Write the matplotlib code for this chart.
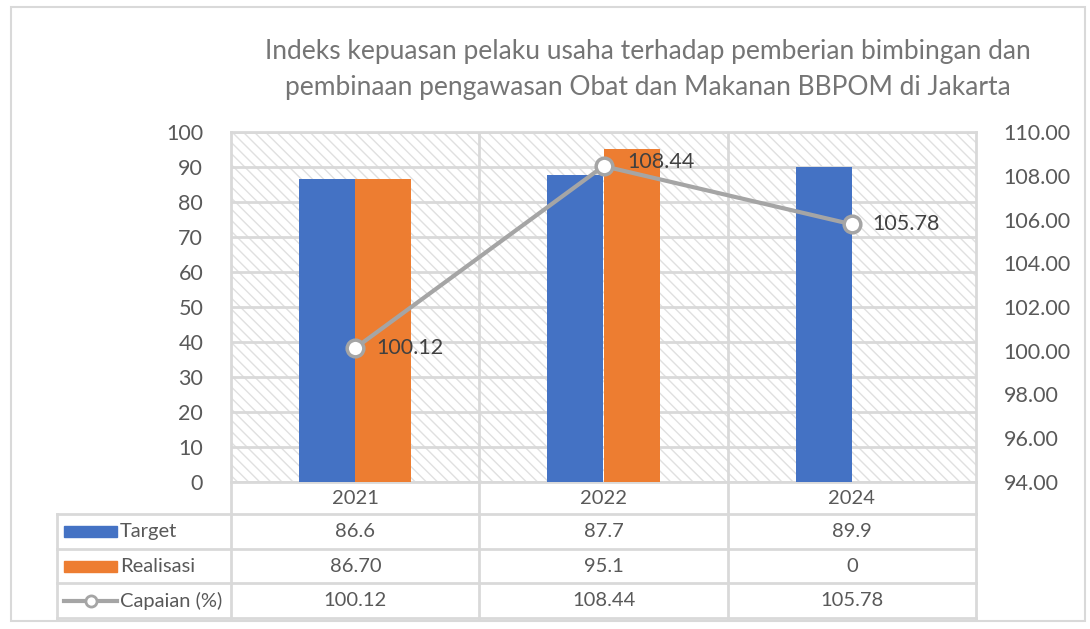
import matplotlib.pyplot as plt
from matplotlib.patches import Rectangle
from matplotlib.lines import Line2D
import numpy as np

years = ['2021', '2022', '2024']
target = [86.6, 87.7, 89.9]
realisasi = [86.70, 95.1, 0]
capaian = [100.12, 108.44, 105.78]
target_txt = ['86.6', '87.7', '89.9']
realisasi_txt = ['86.70', '95.1', '0']
capaian_txt = ['100.12', '108.44', '105.78']

blue = '#4472C4'
orange = '#ED7D31'
gray = '#A5A5A5'
grid_c = '#D9D9D9'
txt_c = '#595959'

plt.rcParams['font.family'] = ['Lato', 'DejaVu Sans']
plt.rcParams['hatch.color'] = '#E0E0E0'
plt.rcParams['hatch.linewidth'] = 1.0

W, H = 1090, 629
fig = plt.figure(figsize=(W / 100, H / 100), dpi=100)

def px(x0, y0, x1, y1):
    return [x0 / W, 1 - y1 / H, (x1 - x0) / W, (y1 - y0) / H]

# outer chart border
fig.patches.append(Rectangle((11 / W, 1 - 621 / H), 1074 / W, 614 / H,
                             transform=fig.transFigure, fill=False,
                             edgecolor=grid_c, lw=1.5))

ax = fig.add_axes(px(231, 132, 976, 482))
x = np.arange(len(years))
bw = 0.226

ax.add_patch(Rectangle((0, 0), 1, 1, transform=ax.transAxes, facecolor='white',
                       hatch='\\\\\\', edgecolor='#E0E0E0', lw=0, zorder=0))
ax.bar(x - bw / 2, target, bw, color=blue, zorder=3)
ax.bar(x + bw / 2, realisasi, bw, color=orange, zorder=3)
ax.set_xlim(-0.5, 2.5)
ax.set_ylim(0, 100)
ax.set_yticks(range(0, 101, 10))
ax.yaxis.grid(True, color=grid_c, lw=2, zorder=1)
for xv in [0.5, 1.5]:
    ax.axvline(xv, color=grid_c, lw=2, zorder=1)
ax.set_xticks([])
ax.tick_params(axis='y', length=0, pad=20, labelsize=15.5, labelcolor=txt_c)
for s in ax.spines.values():
    s.set_color(grid_c)
    s.set_linewidth(2)

ax2 = ax.twinx()
ax2.plot(x, capaian, color=gray, lw=3, marker='o', markersize=12,
         markerfacecolor='white', markeredgecolor=gray, markeredgewidth=2.5,
         zorder=5)
ax2.set_ylim(94, 110)
ax2.set_yticks(np.arange(94, 110.1, 2))
ax2.set_yticklabels(['%.2f' % v for v in np.arange(94, 110.1, 2)])
ax2.tick_params(axis='y', length=0, pad=20, labelsize=15.5, labelcolor=txt_c)
for s in ax2.spines.values():
    s.set_visible(False)
offsets = [(15, 0), (17, 3), (15, 0)]
for xi, v, t, off in zip(x, capaian, capaian_txt, offsets):
    ax2.annotate(t, (xi, v), xytext=off, textcoords='offset points',
                 ha='left', va='center', fontsize=15.5, color='#404040')

# data table
tx = fig.add_axes(px(57, 482, 976, 618))
left = -0.5 - 174 / 248
tx.set_xlim(left, 2.5)
tx.set_ylim(4, 0)
tx.axis('off')
row_h = [0, 32 / 34, 1 + 32 / 34, 2 + 32 / 34, 3 + 32 / 34]
# rows in units: header 32px, others ~34px
scale = 4 / (row_h[-1])
rows = [r * scale for r in row_h]
lc = dict(color=grid_c, lw=2, clip_on=False)
for r in rows[1:]:
    tx.plot([left, 2.5], [r, r], **lc)
for xv in [-0.5, 0.5, 1.5, 2.5]:
    tx.plot([xv, xv], [0, rows[-1]], **lc)
tx.plot([left, left], [rows[1], rows[-1]], **lc)

for xi, y in zip(x, years):
    tx.text(xi, (rows[0] + rows[1]) / 2, y, ha='center', va='center',
            fontsize=14.5, color=txt_c)
for ri, vals in enumerate([target_txt, realisasi_txt, capaian_txt]):
    yc = (rows[ri + 1] + rows[ri + 2]) / 2
    for xi, t in zip(x, vals):
        tx.text(xi, yc, t, ha='center', va='center', fontsize=14.5, color=txt_c)

names = ['Target', 'Realisasi', 'Capaian (%)']
kx0 = left + 7 / 248
kx1 = left + 60 / 248
for ri, name in enumerate(names):
    yc = (rows[ri + 1] + rows[ri + 2]) / 2
    if ri < 2:
        tx.add_patch(Rectangle((kx0, yc - 0.16), kx1 - kx0, 0.32,
                               color=[blue, orange][ri], clip_on=False))
    else:
        tx.add_line(Line2D([kx0, kx1], [yc, yc], color=gray, lw=3,
                           clip_on=False))
        tx.plot([(kx0 + kx1) / 2], [yc], marker='o', markersize=8,
                markerfacecolor='white', markeredgecolor=gray,
                markeredgewidth=2, clip_on=False)
    tx.text(kx1 + 3 / 248, yc, name, ha='left', va='center', fontsize=14.5,
            color=txt_c)

fig.text(648 / W, 1 - 52 / H, 'Indeks kepuasan pelaku usaha terhadap pemberian bimbingan dan',
         ha='center', va='center', fontsize=19, color='#757575')
fig.text(648 / W, 1 - 88 / H, 'pembinaan pengawasan Obat dan Makanan BBPOM di Jakarta',
         ha='center', va='center', fontsize=19, color='#757575')

fig.savefig('out.png', dpi=100)
